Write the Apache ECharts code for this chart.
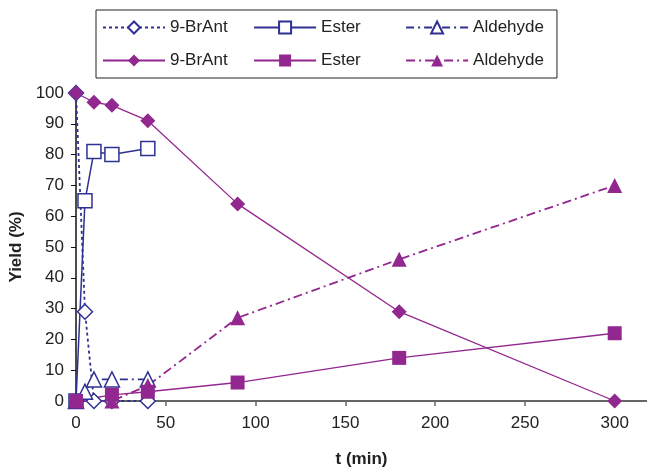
<!DOCTYPE html>
<html>
<head>
<meta charset="utf-8">
<script src="https://cdn.jsdelivr.net/npm/echarts@6/dist/echarts.min.js"></script>
<style>html,body{margin:0;padding:0;background:#fff}#c{width:647px;height:468px}</style>
</head>
<body>
<div id="c"></div>
<script>
// Blue (open markers) series
const blueBrAnt = [[0,100],[5,29],[10,0],[20,0],[40,0]];
const blueEster = [[0,0],[5,65],[10,81],[20,80],[40,82]];
const blueAldehyde = [[0,0],[5,3],[10,7],[20,7],[40,7]];
// Purple (filled markers) series
const purpleBrAnt = [[0,100],[10,97],[20,96],[40,91],[90,64],[180,29],[300,0]];
const purpleEster = [[0,0],[20,2],[40,3],[90,6],[180,14],[300,22]];
const purpleAldehyde = [[0,0],[20,0],[40,5],[90,27],[180,46],[300,70]];
const xTicks = [0,50,100,150,200,250,300];
const yTicks = [0,10,20,30,40,50,60,70,80,90,100];

const BLUE = '#2E3192', PURPLE = '#92278F';
const ZW = '\u200b';
const NB = '\u00a0';
const legendPad = { '9-BrAnt': NB + NB, 'Ester': NB.repeat(6), 'Aldehyde': '' };

function mk(name, data, color, open, symbol, dash, lw) {
  return {
    name, type: 'line', data, symbol, symbolSize: symbol === 'triangle' ? 15 : (symbol === 'rect' ? 14 : 15),
    clip: false,
    lineStyle: { color, width: lw || 1.3, type: dash },
    itemStyle: open ? { color: '#fff', borderColor: color, borderWidth: 1.5 } : { color, borderColor: color, borderWidth: 0 },
    emphasis: { disabled: true }, animation: false
  };
}

const chart = echarts.init(document.getElementById('c'), null, { renderer: 'canvas' });
chart.setOption({
  animation: false,
  textStyle: { fontFamily: 'Liberation Sans, Arial, sans-serif' },
  grid: { left: 76, right: 0, top: 93, bottom: 67, containLabel: false, outerBoundsMode: 'none' },
  legend: {
    left: 96, top: 10, width: 450,
    padding: [9, 13, 9, 6],
    borderColor: '#222', borderWidth: 1,
    itemWidth: 62, itemHeight: 15, itemGap: 16,
    formatter: function (name) { const n = name.replace(ZW, ''); return n + (legendPad[n] || ''); },
    textStyle: { fontSize: 17, color: '#222' },
    data: ['9-BrAnt', 'Ester', 'Aldehyde', '9-BrAnt' + ZW, 'Ester' + ZW, 'Aldehyde' + ZW]
  },
  xAxis: {
    type: 'value', min: 0, max: 318,
    name: 't (min)', nameLocation: 'middle', nameGap: 50,
    nameTextStyle: { fontSize: 17, fontWeight: 'bold', color: '#222' },
    axisLine: { lineStyle: { color: '#666', width: 2 } },
    axisTick: { show: true, length: 5, lineStyle: { color: '#666', width: 1.5 }, customValues: xTicks },
    axisLabel: { fontSize: 17, color: '#222', margin: 14, customValues: xTicks },
    splitLine: { show: false }
  },
  yAxis: {
    type: 'value', min: 0, max: 100, interval: 10,
    name: 'Yield (%)', nameLocation: 'middle', nameGap: 42,
    nameTextStyle: { fontSize: 17, fontWeight: 'bold', color: '#222' },
    axisLine: { show: true, lineStyle: { color: '#111', width: 1.5 } },
    axisTick: { show: true, length: 5, lineStyle: { color: '#111' }, customValues: yTicks },
    axisLabel: { fontSize: 17, color: '#222', margin: 12, customValues: yTicks },
    splitLine: { show: false }
  },
  series: [
    mk('9-BrAnt', blueBrAnt, BLUE, true, 'diamond', [3, 3], 1.8),
    mk('Ester', blueEster, BLUE, true, 'rect', 'solid', 1.5),
    mk('Aldehyde', blueAldehyde, BLUE, true, 'triangle', [8, 4, 2, 4], 1.8),
    mk('9-BrAnt' + ZW, purpleBrAnt, PURPLE, false, 'diamond', 'solid'),
    mk('Ester' + ZW, purpleEster, PURPLE, false, 'rect', 'solid'),
    mk('Aldehyde' + ZW, purpleAldehyde, PURPLE, false, 'triangle', [9, 4, 2, 4], 1.8)
  ]
});
</script>
</body>
</html>
